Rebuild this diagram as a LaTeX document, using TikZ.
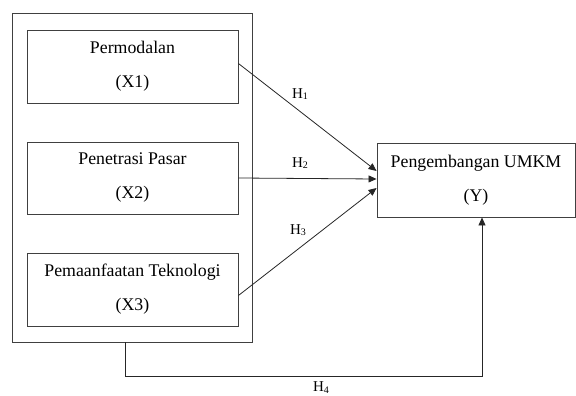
\documentclass[tikz,border=0pt]{standalone}
\usepackage{fontspec}
\setmainfont{Liberation Serif}
\usetikzlibrary{arrows.meta}
\newcommand{\hsub}[1]{H\raisebox{-1.5pt}{\fontsize{10}{10}\selectfont #1}}
\begin{document}
\begin{tikzpicture}[x=1pt,y=-1pt,
  box/.style={draw=black!75,line width=0.9pt,rectangle,align=center,inner sep=0pt,
    font=\fontsize{17.8}{34}\selectfont},
  frame/.style={draw=black!75,line width=0.9pt,rectangle,inner sep=0pt},
  conn/.style={draw=black!85,line width=0.8pt,-{Triangle[length=8pt,width=7pt]}},
  hlab/.style={font=\fontsize{15}{16}\selectfont,inner sep=0pt}]
\useasboundingbox (0,0) rectangle (576,396);
\node[frame,minimum width=240pt,minimum height=329pt] (outer) at (132,177.5) {};
\node[box,minimum width=211pt,minimum height=73pt] (x1) at (132.5,66.5) {Permodalan\\(X1)};
\node[box,minimum width=211pt,minimum height=72pt] (x2) at (132.5,178) {Penetrasi Pasar\\(X2)};
\node[box,minimum width=211pt,minimum height=73pt] (x3) at (132.5,289.5) {Pemaanfaatan Teknologi\\(X3)};
\node[box,minimum width=198pt,minimum height=74pt] (y) at (476,180) {Pengembangan UMKM\\(Y)};
\coordinate (bend) at (125,376);
\draw[conn] ([yshift=3pt]x1.east) -- ([yshift=9pt]y.west);
\draw[conn] (x2.east) -- ([yshift=1pt]y.west);
\draw[conn] ([yshift=-6pt]x3.east) -- ([yshift=-8pt]y.west);
\draw[conn] ([xshift=-7pt]outer.south) -- (bend) -| ([xshift=6pt]y.south);
\node[hlab] (h1) at (300,94) {\hsub{1}};
\node[hlab] (h2) at (300,163) {\hsub{2}};
\node[hlab] (h3) at (298,230) {\hsub{3}};
\node[hlab] (h4) at (321,387.5) {\hsub{4}};
\end{tikzpicture}
\end{document}
